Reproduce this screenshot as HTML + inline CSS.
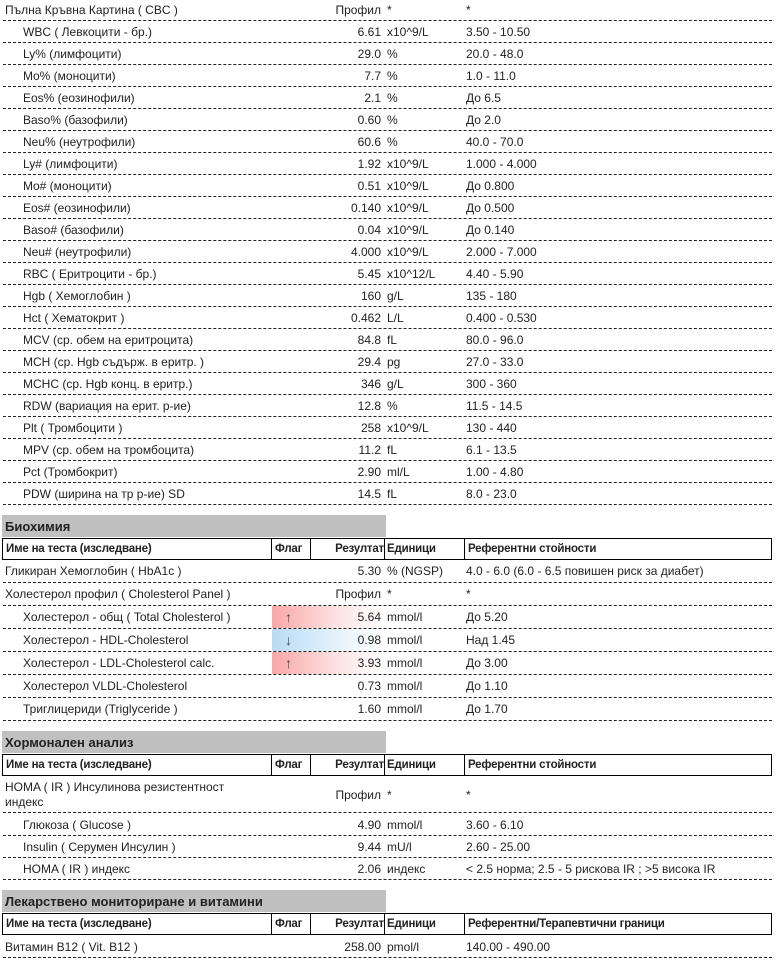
<!DOCTYPE html>
<html><head><meta charset="utf-8"><style>
body{margin:0;width:779px;height:960px;background:#fff;font-family:"Liberation Sans","DejaVu Sans",sans-serif;font-size:12px;color:#222;position:relative;overflow:hidden}
.r{position:absolute;left:3px;width:769px;border-bottom:1px dashed #222}
.r span{position:absolute;white-space:nowrap}
.n{left:2px}.i{left:20px}
.v{right:391px;text-align:right}
.u{left:384px}.f{left:463px}
.fl{position:absolute;left:269px;width:110px;top:0;bottom:0}
.up{background:linear-gradient(to right,#f8a7a7,#fce3e3 60%,#fff)}
.dn{background:linear-gradient(to right,#b9dbf5,#e6f2fb 60%,#fff)}
.fl b{position:absolute;left:13px;font-weight:normal;color:#444;font-size:14px}
.bar{position:absolute;left:2px;width:384px;height:22px;background:#c0c0c0;font-weight:bold;font-size:13px;line-height:24px;padding-left:3px;box-sizing:border-box;color:#222}
.h{position:absolute;left:2px;width:770px;height:22px;border:1px solid #000;box-sizing:border-box;font-weight:bold;line-height:20px;font-size:11.5px;letter-spacing:-0.2px}
.h span{position:absolute;top:0;height:20px}
.h .s{border-left:1px solid #000}
</style></head><body>
<div class="r" style="top:0px;height:20px;line-height:20px"><span class="n">Пълна Кръвна Картина ( CBC )</span><span class="v">Профил</span><span class="u">*</span><span class="f">*</span></div>
<div class="r" style="top:22px;height:20px;line-height:20px"><span class="i">WBC ( Левкоцити - бр.)</span><span class="v">6.61</span><span class="u">x10^9/L</span><span class="f">3.50 - 10.50</span></div>
<div class="r" style="top:44px;height:20px;line-height:20px"><span class="i">Ly% (лимфоцити)</span><span class="v">29.0</span><span class="u">%</span><span class="f">20.0 - 48.0</span></div>
<div class="r" style="top:66px;height:20px;line-height:20px"><span class="i">Mo% (моноцити)</span><span class="v">7.7</span><span class="u">%</span><span class="f">1.0 - 11.0</span></div>
<div class="r" style="top:88px;height:20px;line-height:20px"><span class="i">Eos% (еозинофили)</span><span class="v">2.1</span><span class="u">%</span><span class="f">До 6.5</span></div>
<div class="r" style="top:110px;height:20px;line-height:20px"><span class="i">Baso% (базофили)</span><span class="v">0.60</span><span class="u">%</span><span class="f">До 2.0</span></div>
<div class="r" style="top:132px;height:20px;line-height:20px"><span class="i">Neu% (неутрофили)</span><span class="v">60.6</span><span class="u">%</span><span class="f">40.0 - 70.0</span></div>
<div class="r" style="top:154px;height:20px;line-height:20px"><span class="i">Ly# (лимфоцити)</span><span class="v">1.92</span><span class="u">x10^9/L</span><span class="f">1.000 - 4.000</span></div>
<div class="r" style="top:176px;height:20px;line-height:20px"><span class="i">Mo# (моноцити)</span><span class="v">0.51</span><span class="u">x10^9/L</span><span class="f">До 0.800</span></div>
<div class="r" style="top:198px;height:20px;line-height:20px"><span class="i">Eos# (еозинофили)</span><span class="v">0.140</span><span class="u">x10^9/L</span><span class="f">До 0.500</span></div>
<div class="r" style="top:220px;height:20px;line-height:20px"><span class="i">Baso# (базофили)</span><span class="v">0.04</span><span class="u">x10^9/L</span><span class="f">До 0.140</span></div>
<div class="r" style="top:242px;height:20px;line-height:20px"><span class="i">Neu# (неутрофили)</span><span class="v">4.000</span><span class="u">x10^9/L</span><span class="f">2.000 - 7.000</span></div>
<div class="r" style="top:264px;height:20px;line-height:20px"><span class="i">RBC ( Еритроцити - бр.)</span><span class="v">5.45</span><span class="u">x10^12/L</span><span class="f">4.40 - 5.90</span></div>
<div class="r" style="top:286px;height:20px;line-height:20px"><span class="i">Hgb ( Хемоглобин )</span><span class="v">160</span><span class="u">g/L</span><span class="f">135 - 180</span></div>
<div class="r" style="top:308px;height:20px;line-height:20px"><span class="i">Hct ( Хематокрит )</span><span class="v">0.462</span><span class="u">L/L</span><span class="f">0.400 - 0.530</span></div>
<div class="r" style="top:330px;height:20px;line-height:20px"><span class="i">MCV (ср. обем на еритроцита)</span><span class="v">84.8</span><span class="u">fL</span><span class="f">80.0 - 96.0</span></div>
<div class="r" style="top:352px;height:20px;line-height:20px"><span class="i">MCH (ср. Hgb съдърж. в еритр. )</span><span class="v">29.4</span><span class="u">pg</span><span class="f">27.0 - 33.0</span></div>
<div class="r" style="top:374px;height:20px;line-height:20px"><span class="i">MCHC (ср. Hgb конц. в еритр.)</span><span class="v">346</span><span class="u">g/L</span><span class="f">300 - 360</span></div>
<div class="r" style="top:396px;height:20px;line-height:20px"><span class="i">RDW (вариация на ерит. р-ие)</span><span class="v">12.8</span><span class="u">%</span><span class="f">11.5 - 14.5</span></div>
<div class="r" style="top:418px;height:20px;line-height:20px"><span class="i">Plt ( Тромбоцити )</span><span class="v">258</span><span class="u">x10^9/L</span><span class="f">130 - 440</span></div>
<div class="r" style="top:440px;height:20px;line-height:20px"><span class="i">MPV (ср. обем на тромбоцита)</span><span class="v">11.2</span><span class="u">fL</span><span class="f">6.1 - 13.5</span></div>
<div class="r" style="top:462px;height:20px;line-height:20px"><span class="i">Pct (Тромбокрит)</span><span class="v">2.90</span><span class="u">ml/L</span><span class="f">1.00 - 4.80</span></div>
<div class="r" style="top:484px;height:20px;line-height:20px"><span class="i">PDW (ширина на тр р-ие) SD</span><span class="v">14.5</span><span class="u">fL</span><span class="f">8.0 - 23.0</span></div>

<div class="bar" style="top:515px">Биохимия</div>
<div class="h" style="top:538px"><span style="left:3px">Име на теста (изследване)</span><span class="s" style="left:268px;padding-left:3px">Флаг</span><span class="s" style="left:307px;width:73px;text-align:right">Резултат</span><span class="s" style="left:381px;padding-left:2px">Единици</span><span class="s" style="left:461px;padding-left:3px">Референтни стойности</span></div>
<div class="r" style="top:560px;height:22px;line-height:22px"><span class="n">Гликиран Хемоглобин ( HbA1c )</span><span class="v">5.30</span><span class="u">% (NGSP)</span><span class="f">4.0 - 6.0 (6.0 - 6.5 повишен риск за диабет)</span></div>
<div class="r" style="top:583px;height:22px;line-height:22px"><span class="n">Холестерол профил ( Cholesterol Panel )</span><span class="v">Профил</span><span class="u">*</span><span class="f">*</span></div>
<div class="r" style="top:606px;height:22px;line-height:22px"><div class="fl up"><b>↑</b></div><span class="i">Холестерол - общ ( Total Cholesterol )</span><span class="v">5.64</span><span class="u">mmol/l</span><span class="f">До 5.20</span></div>
<div class="r" style="top:629px;height:22px;line-height:22px"><div class="fl dn"><b>↓</b></div><span class="i">Холестерол - HDL-Cholesterol</span><span class="v">0.98</span><span class="u">mmol/l</span><span class="f">Над 1.45</span></div>
<div class="r" style="top:652px;height:22px;line-height:22px"><div class="fl up"><b>↑</b></div><span class="i">Холестерол - LDL-Cholesterol calc.</span><span class="v">3.93</span><span class="u">mmol/l</span><span class="f">До 3.00</span></div>
<div class="r" style="top:675px;height:22px;line-height:22px"><span class="i">Холестерол VLDL-Cholesterol</span><span class="v">0.73</span><span class="u">mmol/l</span><span class="f">До 1.10</span></div>
<div class="r" style="top:698px;height:22px;line-height:22px"><span class="i">Триглицериди (Triglyceride )</span><span class="v">1.60</span><span class="u">mmol/l</span><span class="f">До 1.70</span></div>

<div class="bar" style="top:731px">Хормонален анализ</div>
<div class="h" style="top:754px"><span style="left:3px">Име на теста (изследване)</span><span class="s" style="left:268px;padding-left:3px">Флаг</span><span class="s" style="left:307px;width:73px;text-align:right">Резултат</span><span class="s" style="left:381px;padding-left:2px">Единици</span><span class="s" style="left:461px;padding-left:3px">Референтни стойности</span></div>
<div class="r" style="top:777px;height:35px;line-height:15px"><span class="n" style="top:3px">HOMA ( IR ) Инсулинова резистентност<br>индекс</span><span class="v" style="top:11px">Профил</span><span class="u" style="top:11px">*</span><span class="f" style="top:11px">*</span></div>
<div class="r" style="top:814px;height:21px;line-height:22px"><span class="i">Глюкоза ( Glucose )</span><span class="v">4.90</span><span class="u">mmol/l</span><span class="f">3.60 - 6.10</span></div>
<div class="r" style="top:836px;height:21px;line-height:22px"><span class="i">Insulin ( Серумен Инсулин )</span><span class="v">9.44</span><span class="u">mU/l</span><span class="f">2.60 - 25.00</span></div>
<div class="r" style="top:858px;height:21px;line-height:22px"><span class="i">HOMA ( IR ) индекс</span><span class="v">2.06</span><span class="u">индекс</span><span class="f">&lt; 2.5 норма; 2.5 - 5 рискова IR ; &gt;5 висока IR</span></div>

<div class="bar" style="top:890px">Лекарствено мониториране и витамини</div>
<div class="h" style="top:913px"><span style="left:3px">Име на теста (изследване)</span><span class="s" style="left:268px;padding-left:3px">Флаг</span><span class="s" style="left:307px;width:73px;text-align:right">Резултат</span><span class="s" style="left:381px;padding-left:2px">Единици</span><span class="s" style="left:461px;padding-left:3px">Референтни/Терапевтични граници</span></div>
<div class="r" style="top:936px;height:21px;line-height:22px"><span class="n">Витамин B12 ( Vit. B12 )</span><span class="v">258.00</span><span class="u">pmol/l</span><span class="f">140.00 - 490.00</span></div>
</body></html>
